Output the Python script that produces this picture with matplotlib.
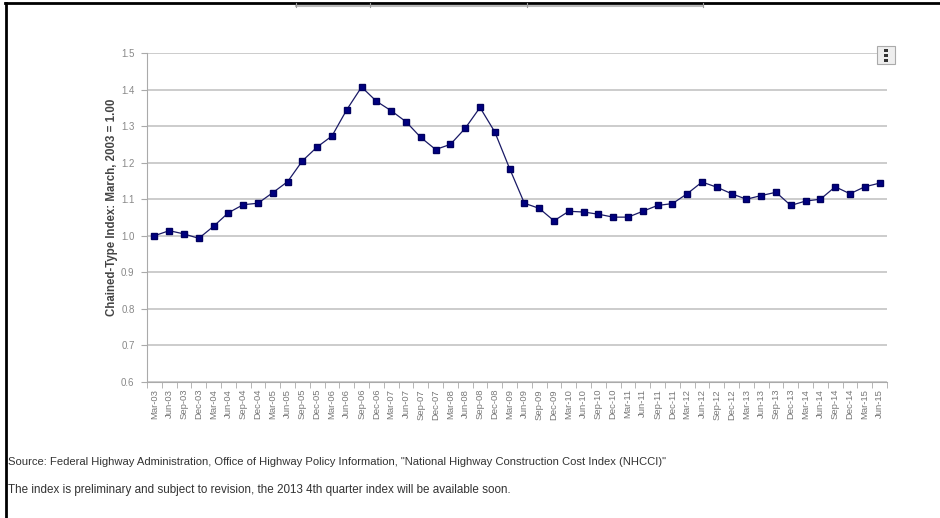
import matplotlib
matplotlib.use("Agg")
import matplotlib.pyplot as plt
from matplotlib.patches import Rectangle
from matplotlib.lines import Line2D

plt.rcParams['font.family'] = ['Liberation Sans', 'DejaVu Sans']

# quarterly labels, Mar-03 .. Jun-15
quarters = ["Mar", "Jun", "Sep", "Dec"]
labels = [f"{q}-{y:02d}" for y in range(3, 16) for q in quarters][:50]

# NHCCI values
nhcci = [1.000, 1.014, 1.005, 0.993, 1.026, 1.063, 1.085, 1.089,
         1.118, 1.148, 1.205, 1.243, 1.273, 1.345, 1.407, 1.368,
         1.342, 1.312, 1.269, 1.236, 1.250, 1.294, 1.351, 1.284,
         1.184, 1.089, 1.075, 1.041, 1.067, 1.065, 1.059, 1.051,
         1.051, 1.067, 1.083, 1.088, 1.115, 1.147, 1.133, 1.115,
         1.100, 1.110, 1.119, 1.083, 1.095, 1.100, 1.134, 1.115,
         1.134, 1.144]

yticks = [0.6, 0.7, 0.8, 0.9, 1.0, 1.1, 1.2, 1.3, 1.4, 1.5]

W, H = 940, 518
fig = plt.figure(figsize=(W/100, H/100), dpi=100)
ax = fig.add_axes([147/W, 1-382/H, (887-147)/W, (382-53)/H])

x = range(len(nhcci))
ax.plot(x, nhcci, color="#1a1a66", lw=0.9, marker="s", ms=4.8,
        markerfacecolor="#000080", markeredgecolor="#000060", zorder=3)

ax.set_xlim(-0.5, len(nhcci)-0.5)
ax.set_ylim(0.6, 1.5)
ax.set_yticks(yticks)
ax.set_yticklabels([f"{v:.1f}" for v in yticks], fontsize=7, color="#888888")
ax.set_xticks(list(x))
ax.set_xticklabels(labels, rotation=90, fontsize=6.8, color="#777777")
ax.set_xticks([i-0.5 for i in range(len(nhcci)+1)], minor=True)
ax.tick_params(axis="x", which="major", length=0, pad=5)
ax.tick_params(axis="x", which="minor", length=4, color="#aaaaaa")
ax.tick_params(axis="y", length=4, color="#aaaaaa", pad=5)

ax.grid(axis="y", color="#c4c4c4", lw=1.2)
for s in ["top", "right"]:
    ax.spines[s].set_visible(False)
ax.spines["left"].set_color("#aaaaaa")
ax.spines["bottom"].set_color("#aaaaaa")

ax.set_ylabel("Chained-Type Index: March, 2003 = 1.00", fontsize=8.3,
              color="#444444", fontweight="bold")
ax.yaxis.set_label_coords(-0.039, 0.53)

# menu button
fig.patches.append(Rectangle((877/W, 1-64/H), 18/W, 18/H, transform=fig.transFigure,
                             facecolor="#eeeeee", edgecolor="#aaaaaa", lw=0.8))
for dy in (50, 55, 60):
    fig.patches.append(Rectangle((884/W, 1-(dy+2)/H), 4/W, 3/H, transform=fig.transFigure,
                                 facecolor="#333333", edgecolor="none"))

# footnotes
fig.text(8/W, 1-462/H, "Source: Federal Highway Administration, Office of Highway Policy Information, "
         "\"National Highway Construction Cost Index (NHCCI)\"", fontsize=8.1,
         color="#333333", va="center")
fig.text(8/W, 1-490/H, "The index is preliminary and subject to revision, the 2013 4th quarter index "
         "will be available soon.", fontsize=8.4, color="#333333", va="center")

# page frame and tab strip
fig.add_artist(Line2D([5/W, 1], [1-3/H, 1-3/H], color="black", lw=2))
fig.add_artist(Line2D([5.5/W, 5.5/W], [0, 1-3/H], color="black", lw=2))
fig.add_artist(Line2D([296/W, 703/W], [1-5.5/H, 1-5.5/H], color="#bbbbbb", lw=1.5))
for tx in (296, 370, 527, 703):
    fig.add_artist(Line2D([tx/W, tx/W], [1-7/H, 1-3/H], color="#999999", lw=0.8))

fig.savefig("out.png", dpi=100)
